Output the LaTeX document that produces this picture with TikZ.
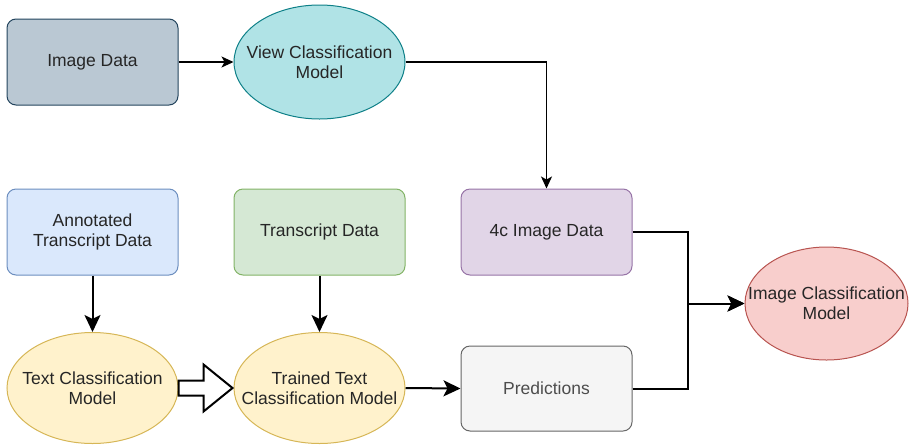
\documentclass[tikz,border=0pt]{standalone}
\usepackage{fontspec}
\setmainfont{Liberation Sans}
\usetikzlibrary{shapes.geometric,arrows.meta,calc}

\definecolor{txtc}{HTML}{262626}
\definecolor{grytxt}{HTML}{4D4D4D}
\definecolor{imgfill}{HTML}{BAC8D3}\definecolor{imgline}{HTML}{23445D}
\definecolor{tealfill}{HTML}{B0E3E6}\definecolor{tealline}{HTML}{0E8088}
\definecolor{bluefill}{HTML}{DAE8FC}\definecolor{blueline}{HTML}{6C8EBF}
\definecolor{greenfill}{HTML}{D5E8D4}\definecolor{greenline}{HTML}{82B366}
\definecolor{purplefill}{HTML}{E1D5E7}\definecolor{purpleline}{HTML}{9673A6}
\definecolor{yellowfill}{HTML}{FFF2CC}\definecolor{yellowline}{HTML}{D6B656}
\definecolor{grayfill}{HTML}{F5F5F5}\definecolor{grayline}{HTML}{666666}
\definecolor{redfill}{HTML}{F8CECC}\definecolor{redline}{HTML}{B85450}

\tikzset{
  lbl/.style={align=center, inner sep=0pt, text=txtc,
    font=\fontsize{17.5}{20}\selectfont},
  databox/.style={lbl, rectangle, rounded corners=9pt, minimum width=171pt,
    minimum height=86pt, line width=1pt},
  modelell/.style={ellipse, inner sep=0pt, minimum width=171pt,
    minimum height=112pt, line width=1pt},
  thinflow/.style={draw=black, line width=1.3pt,
    -{Stealth[length=12pt, width=11pt, inset=3pt]}},
  thickflow/.style={draw=black, line width=2pt,
    -{Stealth[length=17pt, width=16pt, inset=4pt]}},
}

\begin{document}
\begin{tikzpicture}[x=1pt, y=-1pt]
\useasboundingbox (0,0) rectangle (909,445);

% data sources
\node[databox, fill=imgfill, draw=imgline] (img) at (92.5,62) {Image Data};
\node[databox, fill=bluefill, draw=blueline] (ann) at (92.5,232) {Annotated\\Transcript Data};
\node[databox, fill=greenfill, draw=greenline] (trans) at (319.5,232) {Transcript Data};
\node[databox, fill=purplefill, draw=purpleline] (c4) at (546.5,232) {4c Image Data};
\node[databox, fill=grayfill, draw=grayline, text=grytxt, minimum height=85pt] (pred) at (546.5,388.5) {Predictions};

% models
\node[modelell, fill=tealfill, draw=tealline, minimum height=114pt] (view) at (319.5,62) {};
\node[lbl] (viewtxt) at (view) {View Classification\\Model};
\node[modelell, fill=yellowfill, draw=yellowline, minimum height=111pt] (tcm) at (92.5,388) {};
\node[lbl] (tcmtxt) at (tcm) {Text Classification\\Model};
\node[modelell, fill=yellowfill, draw=yellowline, minimum height=111pt] (ttcm) at (319.5,388) {};
\node[lbl] (ttcmtxt) at (ttcm) {Trained Text\\Classification Model};
\node[modelell, fill=redfill, draw=redline, minimum width=163pt, minimum height=113pt] (icm) at (826.5,303.5) {};
\node[lbl] (icmtxt) at (icm) {Image Classification\\Model};

% merge point in front of the image classifier
\coordinate (merge) at (688,303.5);

% connectors
\draw[thinflow] (img.east) -- (view.west);
\draw[thinflow] (view.east) -| (c4.north);
\draw[thickflow] (ann.south) -- (tcm.north);
\draw[thickflow] (trans.south) -- (ttcm.north);
\draw[thickflow] (ttcm.east) -- (pred.west);
\draw[thickflow, line join=miter] (c4.east) -| (merge) -- (icm.west);
\draw[thickflow, line join=miter] (pred.east) -| (merge) -- (icm.west);

% hollow block arrow from the untrained to the trained model
\draw[line width=2pt, fill=white, line join=miter]
  ($(tcm.east)+(0,-7.5)$) -- ($(tcm.east)+(25,-7.5)$)
  -- ($(tcm.east)+(25,-23.5)$) -- ($(ttcm.west)+(-1,0)$)
  -- ($(tcm.east)+(25,23.5)$) -- ($(tcm.east)+(25,7.5)$)
  -- ($(tcm.east)+(0,7.5)$) -- cycle;
\end{tikzpicture}
\end{document}
